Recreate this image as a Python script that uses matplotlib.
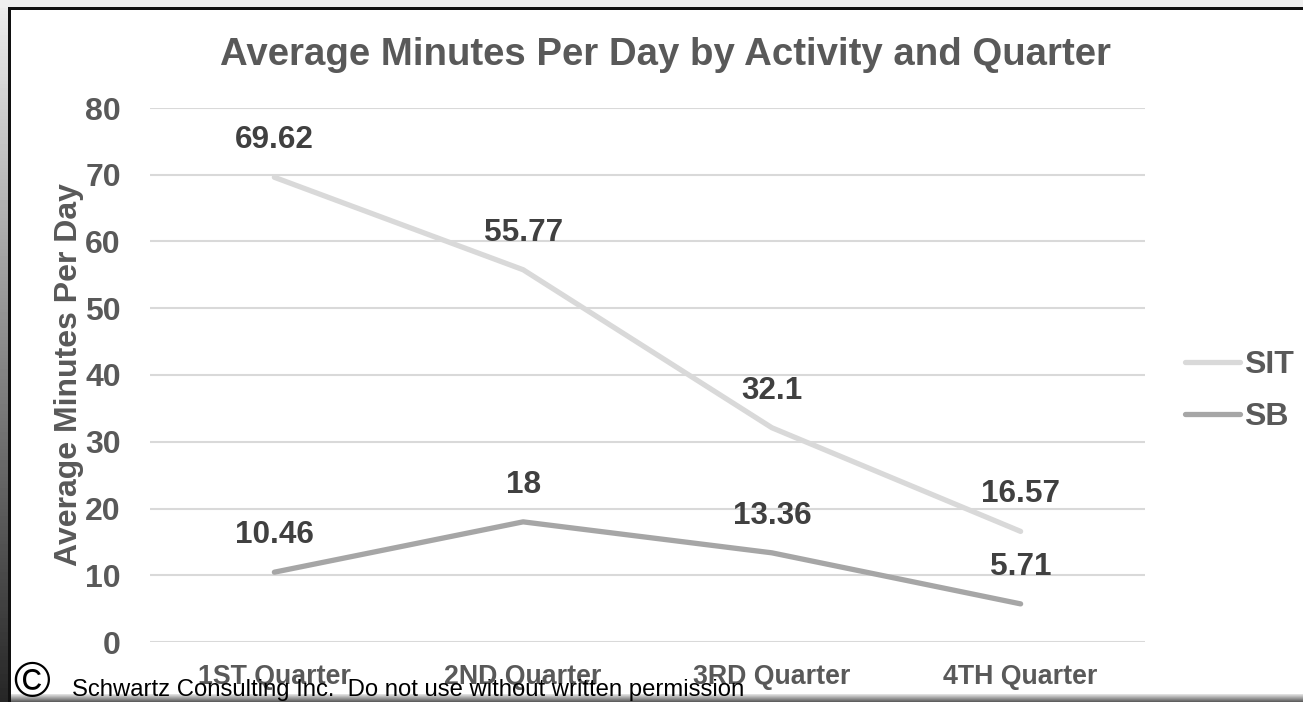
import matplotlib.pyplot as plt
import numpy as np
from matplotlib.patches import Rectangle

plt.rcParams['font.family'] = ['Liberation Sans', 'DejaVu Sans']

quarters = ["1ST Quarter", "2ND Quarter", "3RD Quarter", "4TH Quarter"]
sit = [69.62, 55.77, 32.1, 16.57]
sb = [10.46, 18, 13.36, 5.71]
sit_labels = ["69.62", "55.77", "32.1", "16.57"]
sb_labels = ["10.46", "18", "13.36", "5.71"]

W, H = 1303, 702
fig = plt.figure(figsize=(W / 100, H / 100), dpi=100)
fig.patch.set_facecolor('white')

# frame around the chart: light strip on top, shaded strips left and bottom
bg = fig.add_axes([0, 0, 1, 1], zorder=-10)
bg.axis('off')
bg.add_patch(Rectangle((0, 0), W, 8, color='#efefef', lw=0))
grad_v = np.linspace(0.93, 0.15, 200).reshape(-1, 1)
bg.imshow(grad_v, extent=(0, 8, H, 0), cmap='gray', vmin=0, vmax=1, aspect='auto')
grad_h = np.linspace(0.9, 0.35, 20).reshape(-1, 1)
bg.imshow(grad_h, extent=(8, W, H, 694), cmap='gray', vmin=0, vmax=1, aspect='auto')
bg.add_patch(Rectangle((8, 7), W, 3, color='#111111', lw=0))
bg.add_patch(Rectangle((8, 7), 3, H, color='#111111', lw=0))
bg.set_xlim(0, W)
bg.set_ylim(H, 0)

ax = fig.add_axes([150 / W, 1 - 642 / H, (1145 - 150) / W, (642 - 108) / H])
x = np.arange(len(quarters))

ax.plot(x, sit, color='#d9d9d9', lw=3.8, solid_capstyle='round', label='SIT')
ax.plot(x, sb, color='#a6a6a6', lw=3.8, solid_capstyle='round', label='SB')

for xi, v, s in zip(x, sit, sit_labels):
    ax.annotate(s, (xi, v), xytext=(0, 16), textcoords='offset points',
                ha='center', va='bottom', fontsize=22.7, fontweight='bold', color='#404040')
for xi, v, s in zip(x, sb, sb_labels):
    ax.annotate(s, (xi, v), xytext=(0, 16), textcoords='offset points',
                ha='center', va='bottom', fontsize=22.7, fontweight='bold', color='#404040')

ax.set_xlim(-0.5, 3.5)
ax.set_ylim(0, 80)
ax.set_yticks(range(0, 81, 10))
ax.set_xticks(x)
ax.set_xticklabels(quarters)
ax.grid(axis='y', color='#d9d9d9', lw=1.5)
ax.set_axisbelow(True)
for sp in ax.spines.values():
    sp.set_visible(False)
ax.tick_params(length=0, labelsize=23, labelcolor='#595959')
ax.tick_params(axis='y', pad=21)
ax.tick_params(axis='x', labelsize=19.3, pad=16)
for t in ax.get_xticklabels() + ax.get_yticklabels():
    t.set_fontweight('bold')

ax.set_ylabel('Average Minutes Per Day', fontsize=23, fontweight='bold', color='#595959')
ax.yaxis.set_label_coords(-(150 - 84) / 995, 0.5)

fig.text(665 / W, 1 - 55 / H, 'Average Minutes Per Day by Activity and Quarter',
         ha='center', va='center', fontsize=27.6, fontweight='bold', color='#595959')

leg = ax.legend(loc='center left', bbox_to_anchor=((1185 - 150) / 995, (642 - 391) / 534),
                frameon=False, borderpad=0, borderaxespad=0,
                fontsize=23, handlelength=1.72, handletextpad=0.12, labelspacing=0.68)
for t in leg.get_texts():
    t.set_fontweight('bold')
    t.set_color('#595959')

fig.text(13 / W, 1 - 684 / H, '\u00a9', ha='left', va='center', fontsize=36, color='black')
fig.text(72 / W, 1 - 690 / H, 'Schwartz Consulting Inc.  Do not use without written permission',
         ha='left', va='center', fontsize=17.2, color='black')

fig.savefig('out.png', dpi=100)
